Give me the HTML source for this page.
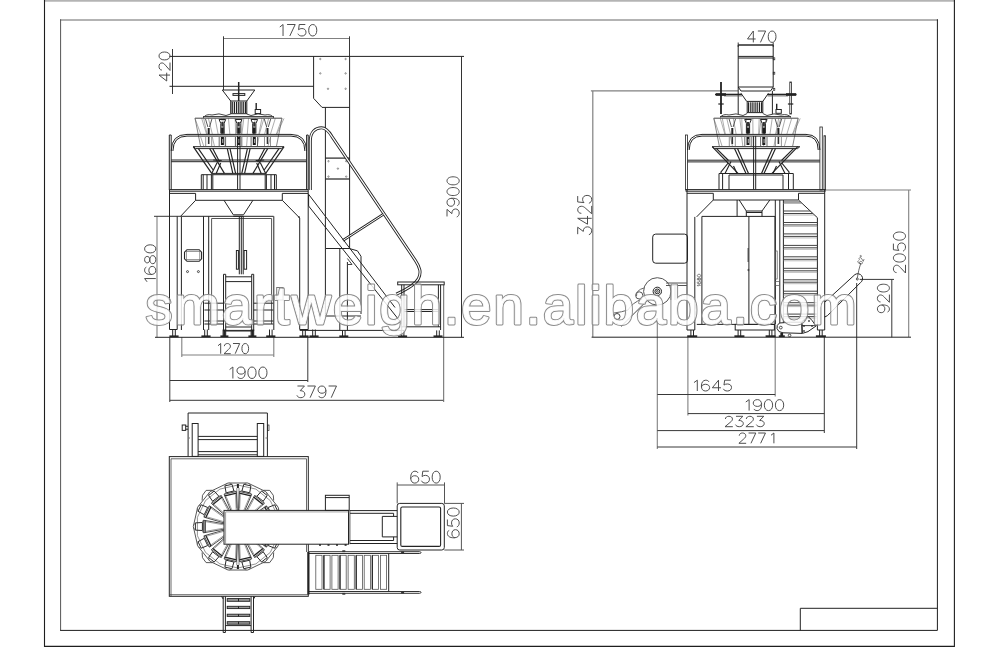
<!DOCTYPE html>
<html><head><meta charset="utf-8"><title>drawing</title>
<style>
html,body{margin:0;padding:0;background:#fff;}
body{width:1000px;height:647px;overflow:hidden;font-family:"Liberation Sans",sans-serif;}
svg{display:block}
</style></head><body>
<svg width="1000" height="647" viewBox="0 0 1000 647" fill="none" stroke="#242424" stroke-width="1" stroke-linecap="butt">
<rect x="0" y="0" width="1000" height="647" fill="#fff" stroke="none"/>
<line x1="44.0" y1="0.8" x2="955.0" y2="0.8" stroke="#b4b4b4" stroke-width="1.7"/>
<path d="M44.5,0.0 L44.5,646.4 L954.4,646.4 L954.4,0.0" stroke="#1e1e1e" stroke-width="1.1"/>
<line x1="60.0" y1="20.0" x2="938.0" y2="20.0" stroke="#9a9a9a" stroke-width="1.5"/>
<path d="M60.6,19.3 L60.6,630.4" stroke="#555" stroke-width="1.0"/>
<path d="M60.1,630.4 L937.4,630.4 L937.4,19.3" stroke="#1e1e1e" stroke-width="1.0"/>
<path d="M800.3,630.4 L800.3,608.3 L937.4,608.3" stroke="#222"/>
<line x1="223.5" y1="38.5" x2="349.5" y2="38.5" stroke="#808080" stroke-width="1.2"/>
<line x1="223.5" y1="36.3" x2="223.5" y2="90.0" stroke="#383838"/>
<line x1="349.5" y1="36.3" x2="349.5" y2="56.4" stroke="#383838"/>
<line x1="172.5" y1="49.0" x2="172.5" y2="94.0" stroke="#383838"/>
<line x1="169.5" y1="86.3" x2="313.6" y2="86.3" stroke="#222" stroke-width="1.0"/>
<line x1="157.0" y1="216.3" x2="157.0" y2="337.3" stroke="#808080" stroke-width="1.1"/>
<line x1="154.0" y1="216.3" x2="181.0" y2="216.3" stroke="#383838"/>
<line x1="181.8" y1="355.0" x2="273.8" y2="355.0" stroke="#808080" stroke-width="1.1"/>
<line x1="181.8" y1="337.0" x2="181.8" y2="357.0" stroke="#808080" stroke-width="1.1"/>
<line x1="273.8" y1="337.0" x2="273.8" y2="357.0" stroke="#808080" stroke-width="1.1"/>
<line x1="169.8" y1="380.5" x2="307.8" y2="380.5" stroke="#383838"/>
<line x1="169.8" y1="337.0" x2="169.8" y2="402.0" stroke="#383838"/>
<line x1="307.8" y1="337.0" x2="307.8" y2="382.0" stroke="#383838"/>
<line x1="169.8" y1="400.3" x2="443.7" y2="400.3" stroke="#383838"/>
<line x1="443.7" y1="285.0" x2="443.7" y2="402.0" stroke="#666"/>
<line x1="169.5" y1="56.4" x2="464.0" y2="56.4" stroke="#222" stroke-width="1.0"/>
<line x1="461.5" y1="56.4" x2="461.5" y2="337.3" stroke="#333"/>
<line x1="155.0" y1="337.3" x2="464.0" y2="337.3" stroke="#222" stroke-width="1.0"/>
<g transform="translate(276.29,24.50) scale(1.350,1.150)" stroke="#444" stroke-width="0.95" fill="none">
<path transform="translate(0.0,0)" d="M2.6,2.2 L5,0 L5,10" vector-effect="non-scaling-stroke"/>
<path transform="translate(8.0,0)" d="M0,0 L6,0 L2,10" vector-effect="non-scaling-stroke"/>
<path transform="translate(16.0,0)" d="M5.5,0 L1,0 L0.5,4.5 C1.2,3.8 2,3.5 3,3.5 C4.8,3.5 6,4.8 6,6.7 C6,8.7 4.8,10 3,10 C1.5,10 0.5,9.3 0,8" vector-effect="non-scaling-stroke"/>
<path transform="translate(24.0,0)" d="M3,0 C1.2,0 0,2 0,5 C0,8 1.2,10 3,10 C4.8,10 6,8 6,5 C6,2 4.8,0 3,0 Z" vector-effect="non-scaling-stroke"/>
</g>
<g transform="translate(159.00,81.00) rotate(-90) scale(1.318,1.100)" stroke="#444" stroke-width="0.95" fill="none">
<path transform="translate(0.0,0)" d="M4.5,10 L4.5,0 L0,7 L6.3,7" vector-effect="non-scaling-stroke"/>
<path transform="translate(8.0,0)" d="M0.3,2.6 C0.3,1 1.5,0 3,0 C4.5,0 5.7,1 5.7,2.6 C5.7,3.8 5.2,4.6 4,5.8 L0,10 L6,10" vector-effect="non-scaling-stroke"/>
<path transform="translate(16.0,0)" d="M3,0 C1.2,0 0,2 0,5 C0,8 1.2,10 3,10 C4.8,10 6,8 6,5 C6,2 4.8,0 3,0 Z" vector-effect="non-scaling-stroke"/>
</g>
<g transform="translate(447.00,217.00) rotate(-90) scale(1.340,1.220)" stroke="#444" stroke-width="0.95" fill="none">
<path transform="translate(0.0,0)" d="M0.4,0 L5.7,0 L2.5,4 C4.6,3.9 6,5.1 6,7 C6,8.8 4.7,10 3,10 C1.5,10 0.4,9.2 0,8" vector-effect="non-scaling-stroke"/>
<path transform="translate(8.0,0)" d="M0.5,8.5 C0.8,9.4 1.7,10 2.8,10 C4.8,10 6,8 6,4.5 C6,1.5 4.8,0 3,0 C1.2,0 0,1.3 0,3.2 C0,5 1.2,6.2 3,6.2 C4.5,6.2 5.7,5.2 6,3.7" vector-effect="non-scaling-stroke"/>
<path transform="translate(16.0,0)" d="M3,0 C1.2,0 0,2 0,5 C0,8 1.2,10 3,10 C4.8,10 6,8 6,5 C6,2 4.8,0 3,0 Z" vector-effect="non-scaling-stroke"/>
<path transform="translate(24.0,0)" d="M3,0 C1.2,0 0,2 0,5 C0,8 1.2,10 3,10 C4.8,10 6,8 6,5 C6,2 4.8,0 3,0 Z" vector-effect="non-scaling-stroke"/>
</g>
<g transform="translate(144.60,285.31) rotate(-90) scale(1.350,1.120)" stroke="#444" stroke-width="0.95" fill="none">
<path transform="translate(0.0,0)" d="M2.6,2.2 L5,0 L5,10" vector-effect="non-scaling-stroke"/>
<path transform="translate(8.0,0)" d="M5.5,1.5 C5.2,0.6 4.3,0 3.2,0 C1.2,0 0,2 0,5.5 C0,8.5 1.2,10 3,10 C4.8,10 6,8.7 6,6.8 C6,5 4.8,3.8 3,3.8 C1.5,3.8 0.3,4.8 0,6.3" vector-effect="non-scaling-stroke"/>
<path transform="translate(16.0,0)" d="M3,0 C1.5,0 0.6,1 0.6,2.3 C0.6,3.7 1.6,4.6 3,4.6 C4.4,4.6 5.4,3.7 5.4,2.3 C5.4,1 4.5,0 3,0 M3,4.6 C1.3,4.6 0,5.7 0,7.3 C0,8.9 1.3,10 3,10 C4.7,10 6,8.9 6,7.3 C6,5.7 4.7,4.6 3,4.6" vector-effect="non-scaling-stroke"/>
<path transform="translate(24.0,0)" d="M3,0 C1.2,0 0,2 0,5 C0,8 1.2,10 3,10 C4.8,10 6,8 6,5 C6,2 4.8,0 3,0 Z" vector-effect="non-scaling-stroke"/>
</g>
<g transform="translate(215.10,343.50) scale(1.117,1.020)" stroke="#444" stroke-width="0.95" fill="none">
<path transform="translate(0.0,0)" d="M2.6,2.2 L5,0 L5,10" vector-effect="non-scaling-stroke"/>
<path transform="translate(8.0,0)" d="M0.3,2.6 C0.3,1 1.5,0 3,0 C4.5,0 5.7,1 5.7,2.6 C5.7,3.8 5.2,4.6 4,5.8 L0,10 L6,10" vector-effect="non-scaling-stroke"/>
<path transform="translate(16.0,0)" d="M0,0 L6,0 L2,10" vector-effect="non-scaling-stroke"/>
<path transform="translate(24.0,0)" d="M3,0 C1.2,0 0,2 0,5 C0,8 1.2,10 3,10 C4.8,10 6,8 6,5 C6,2 4.8,0 3,0 Z" vector-effect="non-scaling-stroke"/>
</g>
<g transform="translate(226.05,367.00) scale(1.365,1.150)" stroke="#444" stroke-width="0.95" fill="none">
<path transform="translate(0.0,0)" d="M2.6,2.2 L5,0 L5,10" vector-effect="non-scaling-stroke"/>
<path transform="translate(8.0,0)" d="M0.5,8.5 C0.8,9.4 1.7,10 2.8,10 C4.8,10 6,8 6,4.5 C6,1.5 4.8,0 3,0 C1.2,0 0,1.3 0,3.2 C0,5 1.2,6.2 3,6.2 C4.5,6.2 5.7,5.2 6,3.7" vector-effect="non-scaling-stroke"/>
<path transform="translate(16.0,0)" d="M3,0 C1.2,0 0,2 0,5 C0,8 1.2,10 3,10 C4.8,10 6,8 6,5 C6,2 4.8,0 3,0 Z" vector-effect="non-scaling-stroke"/>
<path transform="translate(24.0,0)" d="M3,0 C1.2,0 0,2 0,5 C0,8 1.2,10 3,10 C4.8,10 6,8 6,5 C6,2 4.8,0 3,0 Z" vector-effect="non-scaling-stroke"/>
</g>
<g transform="translate(296.90,386.00) scale(1.320,1.170)" stroke="#444" stroke-width="0.95" fill="none">
<path transform="translate(0.0,0)" d="M0.4,0 L5.7,0 L2.5,4 C4.6,3.9 6,5.1 6,7 C6,8.8 4.7,10 3,10 C1.5,10 0.4,9.2 0,8" vector-effect="non-scaling-stroke"/>
<path transform="translate(8.0,0)" d="M0,0 L6,0 L2,10" vector-effect="non-scaling-stroke"/>
<path transform="translate(16.0,0)" d="M0.5,8.5 C0.8,9.4 1.7,10 2.8,10 C4.8,10 6,8 6,4.5 C6,1.5 4.8,0 3,0 C1.2,0 0,1.3 0,3.2 C0,5 1.2,6.2 3,6.2 C4.5,6.2 5.7,5.2 6,3.7" vector-effect="non-scaling-stroke"/>
<path transform="translate(24.0,0)" d="M0,0 L6,0 L2,10" vector-effect="non-scaling-stroke"/>
</g>
<line x1="222.3" y1="90.0" x2="254.8" y2="90.0" stroke-width="1.2"/>
<line x1="222.3" y1="90.0" x2="230.7" y2="101.0"/>
<line x1="254.8" y1="90.0" x2="246.8" y2="101.0"/>
<line x1="238.7" y1="82.0" x2="238.7" y2="101.0" stroke-width="1.5"/>
<rect x="233.0" y="93.6" width="11.8" height="1.8"/>
<rect x="230.7" y="101.0" width="16.1" height="12.7" stroke-width="1.0" fill="#fff"/>
<line x1="232.2" y1="101.8" x2="232.2" y2="113.2" stroke="#222" stroke-width="1.3"/>
<line x1="234.4" y1="101.8" x2="234.4" y2="113.2" stroke="#222" stroke-width="1.3"/>
<line x1="236.6" y1="101.8" x2="236.6" y2="113.2" stroke="#222" stroke-width="1.3"/>
<line x1="238.8" y1="101.8" x2="238.8" y2="113.2" stroke="#222" stroke-width="1.3"/>
<line x1="241.0" y1="101.8" x2="241.0" y2="113.2" stroke="#222" stroke-width="1.3"/>
<line x1="243.2" y1="101.8" x2="243.2" y2="113.2" stroke="#222" stroke-width="1.3"/>
<line x1="245.4" y1="101.8" x2="245.4" y2="113.2" stroke="#222" stroke-width="1.3"/>
<line x1="256.2" y1="103.0" x2="256.2" y2="110.0" stroke-width="1.4"/>
<rect x="255.2" y="109.5" width="5.4" height="4.0"/>
<path d="M203,118 Q206,113.5 212,115 Q219,112.5 226,115.5 L230.7,114 M246.8,114 L251,115.5 Q258,112.5 265,115 Q271,113.5 274,118" stroke="#444"/>
<line x1="203.0" y1="116.6" x2="274.0" y2="116.6" stroke="#444" stroke-width="1.2"/>
<g stroke="#8a8a8a" stroke-width="0.7">
<line x1="195.0" y1="118.4" x2="200.7" y2="134.0"/>
<line x1="200.7" y1="137.0" x2="203.7" y2="146.0"/>
<line x1="201.7" y1="118.4" x2="206.5" y2="134.0"/>
<line x1="203.7" y1="118.4" x2="207.0" y2="134.0"/>
<line x1="208.4" y1="118.4" x2="212.3" y2="134.0"/>
<line x1="212.3" y1="137.0" x2="214.4" y2="146.0"/>
<line x1="215.1" y1="118.4" x2="218.1" y2="134.0"/>
<line x1="221.8" y1="118.4" x2="224.0" y2="134.0"/>
<line x1="224.0" y1="137.0" x2="225.2" y2="146.0"/>
<line x1="223.8" y1="118.4" x2="224.5" y2="134.0"/>
<line x1="228.5" y1="118.4" x2="229.8" y2="134.0"/>
<line x1="235.2" y1="118.4" x2="235.6" y2="134.0"/>
<line x1="235.6" y1="137.0" x2="235.9" y2="146.0"/>
<line x1="241.8" y1="118.4" x2="241.4" y2="134.0"/>
<line x1="243.8" y1="118.4" x2="241.9" y2="134.0"/>
<line x1="248.5" y1="118.4" x2="247.3" y2="134.0"/>
<line x1="247.3" y1="137.0" x2="246.6" y2="146.0"/>
<line x1="255.2" y1="118.4" x2="253.1" y2="134.0"/>
<line x1="261.9" y1="118.4" x2="258.9" y2="134.0"/>
<line x1="258.9" y1="137.0" x2="257.3" y2="146.0"/>
<line x1="263.9" y1="118.4" x2="259.4" y2="134.0"/>
<line x1="268.6" y1="118.4" x2="264.7" y2="134.0"/>
<line x1="275.3" y1="118.4" x2="270.5" y2="134.0"/>
<line x1="270.5" y1="137.0" x2="268.0" y2="146.0"/>
<line x1="282.0" y1="118.4" x2="276.4" y2="134.0"/>
<line x1="284.0" y1="118.4" x2="276.9" y2="134.0"/>
</g>
<line x1="195.0" y1="118.2" x2="282.0" y2="118.2" stroke="#444" stroke-width="1.0"/>
<line x1="195.0" y1="118.2" x2="200.5" y2="146.0" stroke="#666" stroke-width="0.8"/>
<line x1="282.0" y1="118.2" x2="276.5" y2="146.0" stroke="#666" stroke-width="0.8"/>
<line x1="205.5" y1="119.0" x2="207.9" y2="127.0" stroke="#444" stroke-width="0.9"/>
<line x1="211.9" y1="119.0" x2="209.5" y2="127.0" stroke="#444" stroke-width="0.9"/>
<line x1="208.7" y1="128.0" x2="208.7" y2="134.0" stroke="#222" stroke-width="2.0"/>
<line x1="208.7" y1="137.0" x2="208.7" y2="144.0" stroke="#333" stroke-width="1.6"/>
<line x1="205.7" y1="137.0" x2="205.7" y2="146.0" stroke="#666" stroke-width="0.7"/>
<line x1="211.7" y1="137.0" x2="211.7" y2="146.0" stroke="#666" stroke-width="0.7"/>
<path d="M219.1,119.5 L220.8,123.5 L220.8,133.5" stroke="#222" stroke-width="1.0"/>
<path d="M225.7,119.5 L224.0,123.5 L224.0,133.5" stroke="#222" stroke-width="1.0"/>
<line x1="219.1" y1="119.5" x2="225.7" y2="119.5" stroke="#222" stroke-width="1.0"/>
<line x1="222.4" y1="122.0" x2="222.4" y2="126.5" stroke="#333" stroke-width="2.2"/>
<line x1="222.4" y1="127.5" x2="222.4" y2="133.8" stroke="#1c1c1c" stroke-width="2.6"/>
<line x1="222.4" y1="137.0" x2="222.4" y2="145.0" stroke="#1c1c1c" stroke-width="3.0"/>
<line x1="222.7" y1="139.0" x2="222.7" y2="143.0" stroke="#ddd" stroke-width="0.8"/>
<line x1="219.2" y1="137.0" x2="219.2" y2="146.0" stroke="#444" stroke-width="0.8"/>
<line x1="225.6" y1="137.0" x2="225.6" y2="146.0" stroke="#444" stroke-width="0.8"/>
<path d="M235.3,119.5 L237.0,123.5 L237.0,133.5" stroke="#222" stroke-width="1.0"/>
<path d="M241.9,119.5 L240.2,123.5 L240.2,133.5" stroke="#222" stroke-width="1.0"/>
<line x1="235.3" y1="119.5" x2="241.9" y2="119.5" stroke="#222" stroke-width="1.0"/>
<line x1="238.6" y1="122.0" x2="238.6" y2="126.5" stroke="#333" stroke-width="2.2"/>
<line x1="238.6" y1="127.5" x2="238.6" y2="133.8" stroke="#1c1c1c" stroke-width="2.6"/>
<line x1="238.6" y1="137.0" x2="238.6" y2="145.0" stroke="#1c1c1c" stroke-width="3.0"/>
<line x1="238.9" y1="139.0" x2="238.9" y2="143.0" stroke="#ddd" stroke-width="0.8"/>
<line x1="235.4" y1="137.0" x2="235.4" y2="146.0" stroke="#444" stroke-width="0.8"/>
<line x1="241.8" y1="137.0" x2="241.8" y2="146.0" stroke="#444" stroke-width="0.8"/>
<path d="M251.0,119.5 L252.7,123.5 L252.7,133.5" stroke="#222" stroke-width="1.0"/>
<path d="M257.6,119.5 L255.9,123.5 L255.9,133.5" stroke="#222" stroke-width="1.0"/>
<line x1="251.0" y1="119.5" x2="257.6" y2="119.5" stroke="#222" stroke-width="1.0"/>
<line x1="254.3" y1="122.0" x2="254.3" y2="126.5" stroke="#333" stroke-width="2.2"/>
<line x1="254.3" y1="127.5" x2="254.3" y2="133.8" stroke="#1c1c1c" stroke-width="2.6"/>
<line x1="254.3" y1="137.0" x2="254.3" y2="145.0" stroke="#1c1c1c" stroke-width="3.0"/>
<line x1="254.6" y1="139.0" x2="254.6" y2="143.0" stroke="#ddd" stroke-width="0.8"/>
<line x1="251.1" y1="137.0" x2="251.1" y2="146.0" stroke="#444" stroke-width="0.8"/>
<line x1="257.5" y1="137.0" x2="257.5" y2="146.0" stroke="#444" stroke-width="0.8"/>
<line x1="264.3" y1="119.0" x2="266.7" y2="127.0" stroke="#444" stroke-width="0.9"/>
<line x1="270.7" y1="119.0" x2="268.3" y2="127.0" stroke="#444" stroke-width="0.9"/>
<line x1="267.5" y1="128.0" x2="267.5" y2="134.0" stroke="#222" stroke-width="2.0"/>
<line x1="267.5" y1="137.0" x2="267.5" y2="144.0" stroke="#333" stroke-width="1.6"/>
<line x1="264.5" y1="137.0" x2="264.5" y2="146.0" stroke="#666" stroke-width="0.7"/>
<line x1="270.5" y1="137.0" x2="270.5" y2="146.0" stroke="#666" stroke-width="0.7"/>
<line x1="193.3" y1="146.7" x2="283.7" y2="146.7" stroke-width="1.0"/>
<line x1="195.5" y1="148.6" x2="281.5" y2="148.6" stroke-width="1.0"/>
<line x1="193.3" y1="146.7" x2="195.5" y2="148.6"/>
<line x1="283.7" y1="146.7" x2="281.5" y2="148.6"/>
<path d="M193.3,146.7 L211.7,173.4" stroke="#222" stroke-width="1.15"/>
<path d="M284.1,146.7 L265.7,173.4" stroke="#222" stroke-width="1.15"/>
<path d="M198.4,148.6 L213.2,170.0" stroke="#222" stroke-width="1.15"/>
<path d="M279.0,148.6 L264.2,170.0" stroke="#222" stroke-width="1.15"/>
<path d="M209.7,148.6 L224.4,173.4" stroke="#222" stroke-width="1.15"/>
<path d="M267.7,148.6 L253.0,173.4" stroke="#222" stroke-width="1.15"/>
<path d="M212.7,148.6 L219.7,162.0" stroke="#222" stroke-width="1.15"/>
<path d="M264.7,148.6 L257.7,162.0" stroke="#222" stroke-width="1.15"/>
<path d="M217.2,162.5 L211.7,173.4" stroke="#222" stroke-width="1.15"/>
<path d="M260.2,162.5 L265.7,173.4" stroke="#222" stroke-width="1.15"/>
<path d="M213.2,160.0 L221.7,160.5" stroke="#222" stroke-width="1.15"/>
<path d="M264.2,160.0 L255.7,160.5" stroke="#222" stroke-width="1.15"/>
<path d="M220.7,163.0 L216.2,173.4" stroke="#222" stroke-width="1.15"/>
<path d="M256.7,163.0 L261.2,173.4" stroke="#222" stroke-width="1.15"/>
<path d="M227.3,148.6 L232.8,173.4" stroke="#222" stroke-width="1.15"/>
<path d="M250.1,148.6 L244.6,173.4" stroke="#222" stroke-width="1.15"/>
<path d="M230.0,148.6 L235.6,173.4" stroke="#222" stroke-width="1.15"/>
<path d="M247.4,148.6 L241.8,173.4" stroke="#222" stroke-width="1.15"/>
<line x1="201.3" y1="174.7" x2="276.3" y2="174.7"/>
<line x1="211.4" y1="173.4" x2="266.4" y2="173.4"/>
<line x1="201.3" y1="174.7" x2="201.3" y2="189.6"/>
<line x1="203.2" y1="174.7" x2="203.2" y2="189.6"/>
<line x1="207.0" y1="174.7" x2="207.0" y2="189.6"/>
<line x1="211.4" y1="174.7" x2="211.4" y2="189.6"/>
<line x1="212.8" y1="174.7" x2="212.8" y2="189.6"/>
<line x1="265.2" y1="174.7" x2="265.2" y2="189.6"/>
<line x1="266.4" y1="174.7" x2="266.4" y2="189.6"/>
<line x1="271.0" y1="174.7" x2="271.0" y2="189.6"/>
<line x1="274.5" y1="174.7" x2="274.5" y2="189.6"/>
<line x1="276.3" y1="174.7" x2="276.3" y2="189.6"/>
<line x1="237.6" y1="136.0" x2="237.6" y2="189.6"/>
<line x1="240.0" y1="136.0" x2="240.0" y2="189.6"/>
<line x1="169.3" y1="135.0" x2="169.3" y2="190.0"/>
<line x1="171.2" y1="135.0" x2="171.2" y2="190.0"/>
<line x1="306.6" y1="135.0" x2="306.6" y2="190.0"/>
<line x1="308.2" y1="135.0" x2="308.2" y2="190.0"/>
<line x1="169.3" y1="135.0" x2="171.2" y2="135.0"/>
<line x1="306.6" y1="135.0" x2="308.2" y2="135.0"/>
<path d="M171.2,151 Q171.4,134.4 187,134.4 L291,134.4 Q306.4,134.4 306.6,151"/>
<path d="M172.9,151 Q173.2,136.1 187,136.1 L291,136.1 Q304.7,136.1 304.9,151"/>
<line x1="171.2" y1="160.0" x2="306.6" y2="160.0"/>
<line x1="171.2" y1="161.7" x2="306.6" y2="161.7"/>
<line x1="169.3" y1="189.6" x2="308.2" y2="189.6"/>
<line x1="169.3" y1="191.2" x2="308.2" y2="191.2"/>
<line x1="169.5" y1="193.4" x2="195.6" y2="193.4"/>
<line x1="282.3" y1="193.4" x2="308.2" y2="193.4"/>
<path d="M195.6,193.4 L195.6,200.3 L282.3,200.3 L282.3,193.4"/>
<line x1="195.6" y1="200.3" x2="180.6" y2="216.3"/>
<line x1="282.3" y1="200.3" x2="299.7" y2="218.0"/>
<line x1="169.5" y1="190.0" x2="169.5" y2="329.5"/>
<line x1="177.2" y1="216.3" x2="177.2" y2="329.5"/>
<line x1="169.5" y1="329.5" x2="177.2" y2="329.5"/>
<line x1="299.7" y1="218.0" x2="299.7" y2="329.5"/>
<line x1="308.2" y1="190.0" x2="308.2" y2="329.5"/>
<line x1="299.7" y1="329.5" x2="308.2" y2="329.5"/>
<line x1="181.4" y1="216.3" x2="273.6" y2="216.3"/>
<line x1="181.4" y1="216.3" x2="181.4" y2="330.0"/>
<line x1="203.5" y1="216.3" x2="203.5" y2="330.0"/>
<line x1="208.7" y1="216.3" x2="208.7" y2="330.0"/>
<path d="M211.6,324.0 L211.6,218.5 L271.6,218.5 L271.6,324.0" stroke="#555"/>
<line x1="273.8" y1="216.3" x2="273.8" y2="330.0"/>
<path d="M187.0,249.7 L199.2,249.7 L201.6,252.2 L201.6,258.8 L199.2,261.3 L187.0,261.3 L184.5,258.8 L184.5,252.2 Z" stroke-width="1.1"/>
<rect x="186.3" y="251.3" width="13.5" height="8.4" stroke="#666" stroke-width="0.7"/>
<circle cx="187.5" cy="271.6" r="1.0" stroke-width="0.8"/>
<circle cx="198.4" cy="271.6" r="1.0" stroke-width="0.8"/>
<path d="M224.0,200.3 L233.3,214.8 L243.5,214.8 L252.9,200.3"/>
<line x1="233.3" y1="216.3" x2="243.5" y2="216.3"/>
<line x1="239.3" y1="216.3" x2="239.3" y2="274.3"/>
<line x1="241.3" y1="216.3" x2="241.3" y2="274.3"/>
<line x1="243.2" y1="216.3" x2="243.2" y2="274.3"/>
<rect x="236.4" y="250.5" width="2.0" height="18.7"/>
<rect x="244.1" y="250.5" width="2.5" height="18.7"/>
<line x1="223.5" y1="274.3" x2="223.5" y2="331.0"/>
<line x1="225.7" y1="274.3" x2="225.7" y2="331.0"/>
<line x1="251.7" y1="274.3" x2="251.7" y2="331.0"/>
<line x1="253.7" y1="274.3" x2="253.7" y2="331.0"/>
<line x1="223.5" y1="274.3" x2="225.7" y2="274.3"/>
<line x1="251.7" y1="274.3" x2="253.7" y2="274.3"/>
<line x1="225.7" y1="276.8" x2="251.7" y2="276.8"/>
<line x1="225.7" y1="281.6" x2="251.7" y2="281.6"/>
<line x1="225.7" y1="327.0" x2="251.7" y2="327.0"/>
<line x1="225.7" y1="330.4" x2="251.7" y2="330.4"/>
<line x1="223.5" y1="331.0" x2="253.7" y2="331.0"/>
<rect x="276.7" y="287.5" width="6.3" height="12.5" stroke="#777"/>
<line x1="204.4" y1="303.2" x2="223.5" y2="303.2"/>
<line x1="253.7" y1="303.2" x2="273.3" y2="303.2"/>
<line x1="204.4" y1="310.0" x2="223.5" y2="310.0"/>
<line x1="253.7" y1="310.0" x2="273.3" y2="310.0"/>
<line x1="204.4" y1="321.0" x2="223.5" y2="321.0"/>
<line x1="253.7" y1="321.0" x2="273.3" y2="321.0"/>
<line x1="204.4" y1="324.0" x2="223.5" y2="324.0"/>
<line x1="253.7" y1="324.0" x2="273.3" y2="324.0"/>
<line x1="172.7" y1="329.5" x2="172.7" y2="336.1"/>
<line x1="175.3" y1="329.5" x2="175.3" y2="336.1"/>
<line x1="169.4" y1="336.3" x2="178.6" y2="336.3" stroke-width="1.8"/>
<line x1="204.7" y1="329.5" x2="204.7" y2="336.1"/>
<line x1="207.3" y1="329.5" x2="207.3" y2="336.1"/>
<line x1="201.4" y1="336.3" x2="210.6" y2="336.3" stroke-width="1.8"/>
<line x1="223.1" y1="329.5" x2="223.1" y2="336.1"/>
<line x1="225.7" y1="329.5" x2="225.7" y2="336.1"/>
<line x1="224.4" y1="329.5" x2="224.4" y2="336.3" stroke-width="2.2"/>
<line x1="220.4" y1="336.3" x2="228.4" y2="336.3" stroke-width="1.8"/>
<line x1="251.1" y1="329.5" x2="251.1" y2="336.1"/>
<line x1="253.7" y1="329.5" x2="253.7" y2="336.1"/>
<line x1="252.4" y1="329.5" x2="252.4" y2="336.3" stroke-width="2.2"/>
<line x1="248.4" y1="336.3" x2="256.4" y2="336.3" stroke-width="1.8"/>
<line x1="269.5" y1="329.5" x2="269.5" y2="336.1"/>
<line x1="272.1" y1="329.5" x2="272.1" y2="336.1"/>
<line x1="266.2" y1="336.3" x2="275.4" y2="336.3" stroke-width="1.8"/>
<line x1="302.7" y1="329.5" x2="302.7" y2="336.1"/>
<line x1="305.3" y1="329.5" x2="305.3" y2="336.1"/>
<line x1="299.4" y1="336.3" x2="308.6" y2="336.3" stroke-width="1.8"/>
<line x1="312.7" y1="329.5" x2="312.7" y2="336.1"/>
<line x1="315.3" y1="329.5" x2="315.3" y2="336.1"/>
<line x1="309.4" y1="336.3" x2="318.6" y2="336.3" stroke-width="1.8"/>
<path d="M313.6,56.4 L313.6,98.3 L322.0,107.4 L349.6,107.4"/>
<line x1="349.6" y1="56.4" x2="349.6" y2="248.5"/>
<line x1="325.4" y1="107.4" x2="325.4" y2="248.5"/>
<circle cx="320.3" cy="59.0" r="0.7" stroke="#666" stroke-width="0.7"/>
<circle cx="345.6" cy="59.0" r="0.7" stroke="#666" stroke-width="0.7"/>
<circle cx="320.3" cy="73.4" r="0.7" stroke="#666" stroke-width="0.7"/>
<circle cx="345.6" cy="73.4" r="0.7" stroke="#666" stroke-width="0.7"/>
<circle cx="328.0" cy="88.8" r="0.7" stroke="#666" stroke-width="0.7"/>
<circle cx="345.6" cy="88.8" r="0.7" stroke="#666" stroke-width="0.7"/>
<circle cx="328.5" cy="161.2" r="0.7" stroke="#666" stroke-width="0.7"/>
<circle cx="346.2" cy="161.2" r="0.7" stroke="#666" stroke-width="0.7"/>
<circle cx="337.9" cy="168.6" r="0.7" stroke="#666" stroke-width="0.7"/>
<circle cx="328.5" cy="176.6" r="0.7" stroke="#666" stroke-width="0.7"/>
<circle cx="346.2" cy="176.6" r="0.7" stroke="#666" stroke-width="0.7"/>
<line x1="325.4" y1="158.1" x2="349.6" y2="158.1" stroke="#222" stroke-width="1.2"/>
<line x1="325.4" y1="179.0" x2="349.6" y2="179.0" stroke="#222" stroke-width="1.2"/>
<path d="M310.3,190 L310.3,141 C310.3,132 315.5,127.8 321.5,127.8 C326,127.8 329,131.5 332,136.6 L341.3,150.4 L415.5,260.6 C420,267.5 421.5,272.5 418.5,278.5 C415.5,284.5 405,290.2 396.3,294.2" stroke="#242424" stroke-width="3.0"/>
<path d="M310.3,190 L310.3,141 C310.3,132 315.5,127.8 321.5,127.8 C326,127.8 329,131.5 332,136.6 L341.3,150.4 L415.5,260.6 C420,267.5 421.5,272.5 418.5,278.5 C415.5,284.5 405,290.2 396.3,294.2" stroke="#fff" stroke-width="1.2"/>
<path d="M343,240.4 L383.6,214.2" stroke="#242424" stroke-width="2.7"/>
<path d="M343,240.4 L383.6,214.2" stroke="#fff" stroke-width="1.0"/>
<line x1="308.6" y1="194.3" x2="395.0" y2="307.5"/>
<line x1="308.6" y1="206.0" x2="400.0" y2="321.3"/>
<line x1="308.6" y1="194.3" x2="308.6" y2="206.0"/>
<line x1="299.0" y1="216.0" x2="299.0" y2="218.0"/>
<line x1="325.4" y1="248.5" x2="349.2" y2="248.5"/>
<path d="M349.2,248.5 L357.4,250.8 L361.0,256.3 L361.0,314.0"/>
<line x1="339.8" y1="248.5" x2="339.8" y2="330.4"/>
<line x1="347.4" y1="262.0" x2="347.4" y2="330.4"/>
<line x1="325.4" y1="248.5" x2="325.4" y2="316.0"/>
<line x1="325.4" y1="316.0" x2="361.0" y2="316.0"/>
<path d="M347.4,258.5 L352.0,264.5 L347.4,264.5" stroke="#444"/>
<line x1="299.7" y1="330.4" x2="404.0" y2="330.4"/>
<rect x="397.7" y="282.0" width="46.5" height="2.8"/>
<line x1="401.7" y1="284.8" x2="401.7" y2="330.0"/>
<line x1="404.0" y1="284.8" x2="404.0" y2="326.8"/>
<line x1="440.6" y1="284.8" x2="440.6" y2="330.0"/>
<line x1="438.4" y1="284.8" x2="438.4" y2="326.8"/>
<line x1="404.0" y1="309.6" x2="438.4" y2="309.6"/>
<line x1="404.0" y1="311.5" x2="438.4" y2="311.5"/>
<line x1="401.7" y1="326.8" x2="440.6" y2="326.8"/>
<line x1="342.5" y1="330.4" x2="342.5" y2="336.1"/>
<line x1="345.1" y1="330.4" x2="345.1" y2="336.1"/>
<line x1="339.3" y1="336.3" x2="348.3" y2="336.3" stroke-width="1.8"/>
<line x1="401.3" y1="330.4" x2="401.3" y2="336.1"/>
<line x1="403.9" y1="330.4" x2="403.9" y2="336.1"/>
<line x1="398.1" y1="336.3" x2="407.1" y2="336.3" stroke-width="1.8"/>
<line x1="436.7" y1="330.4" x2="436.7" y2="336.1"/>
<line x1="439.3" y1="330.4" x2="439.3" y2="336.1"/>
<line x1="433.5" y1="336.3" x2="442.5" y2="336.3" stroke-width="1.8"/>
<line x1="738.2" y1="45.0" x2="773.2" y2="45.0" stroke="#383838"/>
<line x1="738.2" y1="42.5" x2="738.2" y2="47.0" stroke="#383838"/>
<line x1="773.2" y1="42.5" x2="773.2" y2="47.0" stroke="#383838"/>
<line x1="590.9" y1="90.9" x2="738.0" y2="90.9" stroke="#808080" stroke-width="1.2"/>
<line x1="592.8" y1="90.9" x2="592.8" y2="337.0" stroke="#808080" stroke-width="1.2"/>
<line x1="824.7" y1="190.0" x2="911.0" y2="190.0" stroke="#808080" stroke-width="1.1"/>
<line x1="908.7" y1="190.0" x2="908.7" y2="337.0" stroke="#808080" stroke-width="1.1"/>
<line x1="859.7" y1="279.4" x2="894.0" y2="279.4" stroke="#383838"/>
<line x1="891.8" y1="279.4" x2="891.8" y2="337.3" stroke="#383838"/>
<line x1="657.3" y1="318.0" x2="657.3" y2="449.0" stroke="#808080" stroke-width="1.1"/>
<line x1="687.9" y1="337.0" x2="687.9" y2="415.5" stroke="#808080" stroke-width="1.1"/>
<line x1="775.2" y1="337.0" x2="775.2" y2="396.5" stroke="#808080" stroke-width="1.1"/>
<line x1="824.3" y1="337.0" x2="824.3" y2="433.0" stroke="#383838"/>
<line x1="856.7" y1="283.0" x2="856.7" y2="449.0" stroke="#383838"/>
<line x1="657.3" y1="394.5" x2="775.2" y2="394.5" stroke="#383838"/>
<line x1="687.9" y1="413.6" x2="824.3" y2="413.6" stroke="#383838"/>
<line x1="657.3" y1="430.6" x2="824.3" y2="430.6" stroke="#383838"/>
<line x1="657.3" y1="447.0" x2="856.7" y2="447.0" stroke="#383838"/>
<line x1="591.6" y1="337.2" x2="911.0" y2="337.2" stroke="#222" stroke-width="1.0"/>
<g transform="translate(747.50,31.00) scale(1.295,1.140)" stroke="#444" stroke-width="0.95" fill="none">
<path transform="translate(0.0,0)" d="M4.5,10 L4.5,0 L0,7 L6.3,7" vector-effect="non-scaling-stroke"/>
<path transform="translate(8.0,0)" d="M0,0 L6,0 L2,10" vector-effect="non-scaling-stroke"/>
<path transform="translate(16.0,0)" d="M3,0 C1.2,0 0,2 0,5 C0,8 1.2,10 3,10 C4.8,10 6,8 6,5 C6,2 4.8,0 3,0 Z" vector-effect="non-scaling-stroke"/>
</g>
<g transform="translate(577.70,234.70) rotate(-90) scale(1.310,1.400)" stroke="#444" stroke-width="0.95" fill="none">
<path transform="translate(0.0,0)" d="M0.4,0 L5.7,0 L2.5,4 C4.6,3.9 6,5.1 6,7 C6,8.8 4.7,10 3,10 C1.5,10 0.4,9.2 0,8" vector-effect="non-scaling-stroke"/>
<path transform="translate(8.0,0)" d="M4.5,10 L4.5,0 L0,7 L6.3,7" vector-effect="non-scaling-stroke"/>
<path transform="translate(16.0,0)" d="M0.3,2.6 C0.3,1 1.5,0 3,0 C4.5,0 5.7,1 5.7,2.6 C5.7,3.8 5.2,4.6 4,5.8 L0,10 L6,10" vector-effect="non-scaling-stroke"/>
<path transform="translate(24.0,0)" d="M5.5,0 L1,0 L0.5,4.5 C1.2,3.8 2,3.5 3,3.5 C4.8,3.5 6,4.8 6,6.7 C6,8.7 4.8,10 3,10 C1.5,10 0.5,9.3 0,8" vector-effect="non-scaling-stroke"/>
</g>
<g transform="translate(893.40,273.00) rotate(-90) scale(1.367,1.210)" stroke="#444" stroke-width="0.95" fill="none">
<path transform="translate(0.0,0)" d="M0.3,2.6 C0.3,1 1.5,0 3,0 C4.5,0 5.7,1 5.7,2.6 C5.7,3.8 5.2,4.6 4,5.8 L0,10 L6,10" vector-effect="non-scaling-stroke"/>
<path transform="translate(8.0,0)" d="M3,0 C1.2,0 0,2 0,5 C0,8 1.2,10 3,10 C4.8,10 6,8 6,5 C6,2 4.8,0 3,0 Z" vector-effect="non-scaling-stroke"/>
<path transform="translate(16.0,0)" d="M5.5,0 L1,0 L0.5,4.5 C1.2,3.8 2,3.5 3,3.5 C4.8,3.5 6,4.8 6,6.7 C6,8.7 4.8,10 3,10 C1.5,10 0.5,9.3 0,8" vector-effect="non-scaling-stroke"/>
<path transform="translate(24.0,0)" d="M3,0 C1.2,0 0,2 0,5 C0,8 1.2,10 3,10 C4.8,10 6,8 6,5 C6,2 4.8,0 3,0 Z" vector-effect="non-scaling-stroke"/>
</g>
<g transform="translate(877.40,312.70) rotate(-90) scale(1.295,1.200)" stroke="#444" stroke-width="0.95" fill="none">
<path transform="translate(0.0,0)" d="M0.5,8.5 C0.8,9.4 1.7,10 2.8,10 C4.8,10 6,8 6,4.5 C6,1.5 4.8,0 3,0 C1.2,0 0,1.3 0,3.2 C0,5 1.2,6.2 3,6.2 C4.5,6.2 5.7,5.2 6,3.7" vector-effect="non-scaling-stroke"/>
<path transform="translate(8.0,0)" d="M0.3,2.6 C0.3,1 1.5,0 3,0 C4.5,0 5.7,1 5.7,2.6 C5.7,3.8 5.2,4.6 4,5.8 L0,10 L6,10" vector-effect="non-scaling-stroke"/>
<path transform="translate(16.0,0)" d="M3,0 C1.2,0 0,2 0,5 C0,8 1.2,10 3,10 C4.8,10 6,8 6,5 C6,2 4.8,0 3,0 Z" vector-effect="non-scaling-stroke"/>
</g>
<g transform="translate(690.44,380.20) scale(1.369,1.080)" stroke="#444" stroke-width="0.95" fill="none">
<path transform="translate(0.0,0)" d="M2.6,2.2 L5,0 L5,10" vector-effect="non-scaling-stroke"/>
<path transform="translate(8.0,0)" d="M5.5,1.5 C5.2,0.6 4.3,0 3.2,0 C1.2,0 0,2 0,5.5 C0,8.5 1.2,10 3,10 C4.8,10 6,8.7 6,6.8 C6,5 4.8,3.8 3,3.8 C1.5,3.8 0.3,4.8 0,6.3" vector-effect="non-scaling-stroke"/>
<path transform="translate(16.0,0)" d="M4.5,10 L4.5,0 L0,7 L6.3,7" vector-effect="non-scaling-stroke"/>
<path transform="translate(24.0,0)" d="M5.5,0 L1,0 L0.5,4.5 C1.2,3.8 2,3.5 3,3.5 C4.8,3.5 6,4.8 6,6.7 C6,8.7 4.8,10 3,10 C1.5,10 0.5,9.3 0,8" vector-effect="non-scaling-stroke"/>
</g>
<g transform="translate(742.20,399.60) scale(1.383,1.100)" stroke="#444" stroke-width="0.95" fill="none">
<path transform="translate(0.0,0)" d="M2.6,2.2 L5,0 L5,10" vector-effect="non-scaling-stroke"/>
<path transform="translate(8.0,0)" d="M0.5,8.5 C0.8,9.4 1.7,10 2.8,10 C4.8,10 6,8 6,4.5 C6,1.5 4.8,0 3,0 C1.2,0 0,1.3 0,3.2 C0,5 1.2,6.2 3,6.2 C4.5,6.2 5.7,5.2 6,3.7" vector-effect="non-scaling-stroke"/>
<path transform="translate(16.0,0)" d="M3,0 C1.2,0 0,2 0,5 C0,8 1.2,10 3,10 C4.8,10 6,8 6,5 C6,2 4.8,0 3,0 Z" vector-effect="non-scaling-stroke"/>
<path transform="translate(24.0,0)" d="M3,0 C1.2,0 0,2 0,5 C0,8 1.2,10 3,10 C4.8,10 6,8 6,5 C6,2 4.8,0 3,0 Z" vector-effect="non-scaling-stroke"/>
</g>
<g transform="translate(725.00,416.30) scale(1.307,1.040)" stroke="#444" stroke-width="0.95" fill="none">
<path transform="translate(0.0,0)" d="M0.3,2.6 C0.3,1 1.5,0 3,0 C4.5,0 5.7,1 5.7,2.6 C5.7,3.8 5.2,4.6 4,5.8 L0,10 L6,10" vector-effect="non-scaling-stroke"/>
<path transform="translate(8.0,0)" d="M0.4,0 L5.7,0 L2.5,4 C4.6,3.9 6,5.1 6,7 C6,8.8 4.7,10 3,10 C1.5,10 0.4,9.2 0,8" vector-effect="non-scaling-stroke"/>
<path transform="translate(16.0,0)" d="M0.3,2.6 C0.3,1 1.5,0 3,0 C4.5,0 5.7,1 5.7,2.6 C5.7,3.8 5.2,4.6 4,5.8 L0,10 L6,10" vector-effect="non-scaling-stroke"/>
<path transform="translate(24.0,0)" d="M0.4,0 L5.7,0 L2.5,4 C4.6,3.9 6,5.1 6,7 C6,8.8 4.7,10 3,10 C1.5,10 0.4,9.2 0,8" vector-effect="non-scaling-stroke"/>
</g>
<g transform="translate(738.90,433.00) scale(1.207,1.030)" stroke="#444" stroke-width="0.95" fill="none">
<path transform="translate(0.0,0)" d="M0.3,2.6 C0.3,1 1.5,0 3,0 C4.5,0 5.7,1 5.7,2.6 C5.7,3.8 5.2,4.6 4,5.8 L0,10 L6,10" vector-effect="non-scaling-stroke"/>
<path transform="translate(8.0,0)" d="M0,0 L6,0 L2,10" vector-effect="non-scaling-stroke"/>
<path transform="translate(16.0,0)" d="M0,0 L6,0 L2,10" vector-effect="non-scaling-stroke"/>
<path transform="translate(24.0,0)" d="M2.6,2.2 L5,0 L5,10" vector-effect="non-scaling-stroke"/>
</g>
<path d="M738.2,114.0 L738.2,45.0 L773.2,45.0 L773.2,87.0 L770.5,91.0 L741.0,91.0 L738.2,87.0"/>
<line x1="738.2" y1="56.4" x2="773.2" y2="56.4"/>
<line x1="738.2" y1="58.0" x2="773.2" y2="58.0"/>
<line x1="738.2" y1="87.0" x2="773.2" y2="87.0"/>
<line x1="772.4" y1="91.0" x2="772.4" y2="114.0"/>
<rect x="773.2" y="57.8" width="1.6" height="2.0" stroke-width="0.7"/>
<rect x="773.2" y="72.2" width="1.6" height="2.0" stroke-width="0.7"/>
<rect x="773.2" y="88.3" width="1.6" height="2.0" stroke-width="0.7"/>
<line x1="715.0" y1="94.5" x2="742.0" y2="94.5" stroke="#222" stroke-width="1.6"/>
<line x1="767.6" y1="94.5" x2="796.6" y2="94.5" stroke="#222" stroke-width="1.6"/>
<line x1="724.0" y1="96.0" x2="742.0" y2="96.0" stroke="#555" stroke-width="0.7"/>
<line x1="767.6" y1="96.0" x2="788.0" y2="96.0" stroke="#555" stroke-width="0.7"/>
<line x1="721.0" y1="82.0" x2="721.0" y2="114.0" stroke="#222" stroke-width="1.8"/>
<rect x="789.8" y="82.0" width="1.6" height="32.0" stroke-width="0.8"/>
<line x1="718.3" y1="104.0" x2="723.7" y2="104.0" stroke-width="1.2"/>
<line x1="787.9" y1="104.0" x2="793.3" y2="104.0" stroke-width="1.2"/>
<line x1="716.0" y1="94.5" x2="726.0" y2="94.5" stroke="#222" stroke-width="2.6"/>
<line x1="786.0" y1="94.5" x2="796.0" y2="94.5" stroke="#222" stroke-width="2.6"/>
<line x1="741.0" y1="93.3" x2="746.7" y2="101.4"/>
<line x1="768.4" y1="93.3" x2="762.8" y2="101.4"/>
<rect x="747.2" y="101.4" width="15.6" height="11.2" fill="#fff"/>
<line x1="748.6" y1="102.2" x2="748.6" y2="112.0" stroke="#222" stroke-width="1.2"/>
<line x1="750.8" y1="102.2" x2="750.8" y2="112.0" stroke="#222" stroke-width="1.2"/>
<line x1="752.9" y1="102.2" x2="752.9" y2="112.0" stroke="#222" stroke-width="1.2"/>
<line x1="755.1" y1="102.2" x2="755.1" y2="112.0" stroke="#222" stroke-width="1.2"/>
<line x1="757.2" y1="102.2" x2="757.2" y2="112.0" stroke="#222" stroke-width="1.2"/>
<line x1="759.4" y1="102.2" x2="759.4" y2="112.0" stroke="#222" stroke-width="1.2"/>
<line x1="761.5" y1="102.2" x2="761.5" y2="112.0" stroke="#222" stroke-width="1.2"/>
<line x1="776.7" y1="103.8" x2="776.7" y2="110.0" stroke-width="1.4"/>
<rect x="776.0" y="109.5" width="5.3" height="3.8"/>
<path d="M720,117.5 Q723,113.5 729,115 Q736,112.5 743,115.5 L747.2,113.5 M762.8,113.5 L767,115.5 Q774,112.5 781,115 Q788,113.5 791,117.5" stroke="#444"/>
<line x1="720.0" y1="116.6" x2="791.0" y2="116.6" stroke="#444" stroke-width="1.2"/>
<g stroke="#8a8a8a" stroke-width="0.7">
<line x1="713.8" y1="118.4" x2="719.2" y2="134.0"/>
<line x1="719.2" y1="137.0" x2="722.0" y2="146.0"/>
<line x1="720.3" y1="118.4" x2="724.8" y2="134.0"/>
<line x1="722.3" y1="118.4" x2="725.3" y2="134.0"/>
<line x1="726.8" y1="118.4" x2="730.5" y2="134.0"/>
<line x1="730.5" y1="137.0" x2="732.4" y2="146.0"/>
<line x1="733.3" y1="118.4" x2="736.1" y2="134.0"/>
<line x1="739.8" y1="118.4" x2="741.7" y2="134.0"/>
<line x1="741.7" y1="137.0" x2="742.8" y2="146.0"/>
<line x1="741.8" y1="118.4" x2="742.2" y2="134.0"/>
<line x1="746.3" y1="118.4" x2="747.4" y2="134.0"/>
<line x1="752.8" y1="118.4" x2="753.0" y2="134.0"/>
<line x1="753.0" y1="137.0" x2="753.2" y2="146.0"/>
<line x1="759.2" y1="118.4" x2="758.7" y2="134.0"/>
<line x1="761.2" y1="118.4" x2="759.2" y2="134.0"/>
<line x1="765.7" y1="118.4" x2="764.3" y2="134.0"/>
<line x1="764.3" y1="137.0" x2="763.6" y2="146.0"/>
<line x1="772.2" y1="118.4" x2="770.0" y2="134.0"/>
<line x1="778.7" y1="118.4" x2="775.6" y2="134.0"/>
<line x1="775.6" y1="137.0" x2="774.0" y2="146.0"/>
<line x1="780.7" y1="118.4" x2="776.1" y2="134.0"/>
<line x1="785.2" y1="118.4" x2="781.3" y2="134.0"/>
<line x1="791.7" y1="118.4" x2="786.9" y2="134.0"/>
<line x1="786.9" y1="137.0" x2="784.4" y2="146.0"/>
<line x1="798.2" y1="118.4" x2="792.6" y2="134.0"/>
<line x1="800.2" y1="118.4" x2="793.1" y2="134.0"/>
</g>
<line x1="713.8" y1="118.2" x2="798.2" y2="118.2" stroke="#444" stroke-width="1.0"/>
<line x1="713.8" y1="118.2" x2="719.3" y2="146.0" stroke="#666" stroke-width="0.8"/>
<line x1="798.2" y1="118.2" x2="792.7" y2="146.0" stroke="#666" stroke-width="0.8"/>
<line x1="729.1" y1="119.0" x2="731.5" y2="127.0" stroke="#444" stroke-width="0.9"/>
<line x1="735.5" y1="119.0" x2="733.1" y2="127.0" stroke="#444" stroke-width="0.9"/>
<line x1="732.3" y1="128.0" x2="732.3" y2="134.0" stroke="#222" stroke-width="2.0"/>
<line x1="732.3" y1="137.0" x2="732.3" y2="144.0" stroke="#333" stroke-width="1.6"/>
<line x1="729.3" y1="137.0" x2="729.3" y2="146.0" stroke="#666" stroke-width="0.7"/>
<line x1="735.3" y1="137.0" x2="735.3" y2="146.0" stroke="#666" stroke-width="0.7"/>
<path d="M744.7,119.5 L746.4,123.5 L746.4,133.5" stroke="#222" stroke-width="1.0"/>
<path d="M751.3,119.5 L749.6,123.5 L749.6,133.5" stroke="#222" stroke-width="1.0"/>
<line x1="744.7" y1="119.5" x2="751.3" y2="119.5" stroke="#222" stroke-width="1.0"/>
<line x1="748.0" y1="122.0" x2="748.0" y2="126.5" stroke="#333" stroke-width="2.2"/>
<line x1="748.0" y1="127.5" x2="748.0" y2="133.8" stroke="#1c1c1c" stroke-width="2.6"/>
<line x1="748.0" y1="137.0" x2="748.0" y2="145.0" stroke="#1c1c1c" stroke-width="3.0"/>
<line x1="748.3" y1="139.0" x2="748.3" y2="143.0" stroke="#ddd" stroke-width="0.8"/>
<line x1="744.8" y1="137.0" x2="744.8" y2="146.0" stroke="#444" stroke-width="0.8"/>
<line x1="751.2" y1="137.0" x2="751.2" y2="146.0" stroke="#444" stroke-width="0.8"/>
<path d="M760.5,119.5 L762.2,123.5 L762.2,133.5" stroke="#222" stroke-width="1.0"/>
<path d="M767.1,119.5 L765.4,123.5 L765.4,133.5" stroke="#222" stroke-width="1.0"/>
<line x1="760.5" y1="119.5" x2="767.1" y2="119.5" stroke="#222" stroke-width="1.0"/>
<line x1="763.8" y1="122.0" x2="763.8" y2="126.5" stroke="#333" stroke-width="2.2"/>
<line x1="763.8" y1="127.5" x2="763.8" y2="133.8" stroke="#1c1c1c" stroke-width="2.6"/>
<line x1="763.8" y1="137.0" x2="763.8" y2="145.0" stroke="#1c1c1c" stroke-width="3.0"/>
<line x1="764.1" y1="139.0" x2="764.1" y2="143.0" stroke="#ddd" stroke-width="0.8"/>
<line x1="760.6" y1="137.0" x2="760.6" y2="146.0" stroke="#444" stroke-width="0.8"/>
<line x1="767.0" y1="137.0" x2="767.0" y2="146.0" stroke="#444" stroke-width="0.8"/>
<line x1="775.2" y1="119.0" x2="777.6" y2="127.0" stroke="#444" stroke-width="0.9"/>
<line x1="781.6" y1="119.0" x2="779.2" y2="127.0" stroke="#444" stroke-width="0.9"/>
<line x1="778.4" y1="128.0" x2="778.4" y2="134.0" stroke="#222" stroke-width="2.0"/>
<line x1="778.4" y1="137.0" x2="778.4" y2="144.0" stroke="#333" stroke-width="1.6"/>
<line x1="775.4" y1="137.0" x2="775.4" y2="146.0" stroke="#666" stroke-width="0.7"/>
<line x1="781.4" y1="137.0" x2="781.4" y2="146.0" stroke="#666" stroke-width="0.7"/>
<line x1="712.2" y1="146.7" x2="799.8" y2="146.7" stroke-width="1.0"/>
<line x1="714.4" y1="148.6" x2="797.6" y2="148.6" stroke-width="1.0"/>
<line x1="712.2" y1="146.7" x2="714.4" y2="148.6"/>
<line x1="799.8" y1="146.7" x2="797.6" y2="148.6"/>
<path d="M712.2,146.7 L738.0,173.4" stroke="#222" stroke-width="1.15"/>
<path d="M797.8,146.7 L772.0,173.4" stroke="#222" stroke-width="1.15"/>
<path d="M716.5,148.6 L728.5,160.5" stroke="#222" stroke-width="1.15"/>
<path d="M793.5,148.6 L781.5,160.5" stroke="#222" stroke-width="1.15"/>
<path d="M728.2,163.0 L721.0,172.0 L721.0,173.5" stroke="#222" stroke-width="1.15"/>
<path d="M781.8,163.0 L789.0,172.0 L789.0,173.5" stroke="#222" stroke-width="1.15"/>
<path d="M731.0,161.5 L725.0,173.4" stroke="#222" stroke-width="1.15"/>
<path d="M779.0,161.5 L785.0,173.4" stroke="#222" stroke-width="1.15"/>
<path d="M734.5,148.6 L746.0,173.4" stroke="#222" stroke-width="1.15"/>
<path d="M775.5,148.6 L764.0,173.4" stroke="#222" stroke-width="1.15"/>
<path d="M737.5,148.6 L748.5,173.4" stroke="#222" stroke-width="1.15"/>
<path d="M772.5,148.6 L761.5,173.4" stroke="#222" stroke-width="1.15"/>
<path d="M733.5,166.0 L737.0,173.4" stroke="#222" stroke-width="1.15"/>
<path d="M776.5,166.0 L773.0,173.4" stroke="#222" stroke-width="1.15"/>
<line x1="719.0" y1="173.5" x2="793.3" y2="173.5"/>
<line x1="729.0" y1="175.0" x2="783.0" y2="175.0"/>
<line x1="719.0" y1="173.5" x2="719.0" y2="189.6"/>
<line x1="722.6" y1="173.5" x2="722.6" y2="189.6"/>
<line x1="729.0" y1="175.0" x2="729.0" y2="189.6"/>
<line x1="783.0" y1="175.0" x2="783.0" y2="189.6"/>
<line x1="788.5" y1="173.5" x2="788.5" y2="189.6"/>
<line x1="793.3" y1="173.5" x2="793.3" y2="189.6"/>
<line x1="753.6" y1="136.0" x2="753.6" y2="189.6"/>
<line x1="755.7" y1="136.0" x2="755.7" y2="189.6"/>
<rect x="685.6" y="135.0" width="1.9" height="55.0" stroke-width="0.8"/>
<rect x="819.9" y="127.0" width="2.4" height="63.0" stroke-width="0.8"/>
<rect x="824.0" y="135.7" width="1.6" height="54.3" stroke-width="0.8"/>
<path d="M687.5,150 Q687.7,134.4 702,134.4 L806,134.4 Q819.7,134.4 819.9,150"/>
<path d="M689.2,150 Q689.4,136.1 702,136.1 L806,136.1 Q818,136.1 818.2,150"/>
<line x1="687.5" y1="160.2" x2="819.9" y2="160.2"/>
<line x1="687.5" y1="161.9" x2="819.9" y2="161.9"/>
<line x1="685.6" y1="189.6" x2="825.6" y2="189.6"/>
<line x1="685.6" y1="191.2" x2="825.6" y2="191.2"/>
<line x1="687.0" y1="193.3" x2="713.3" y2="193.3"/>
<line x1="798.5" y1="193.3" x2="824.7" y2="193.3"/>
<path d="M713.3,193.3 L713.3,200.0 L798.5,200.0 L798.5,193.3"/>
<line x1="713.3" y1="200.0" x2="696.6" y2="216.9"/>
<line x1="798.5" y1="200.0" x2="817.4" y2="217.7"/>
<line x1="687.0" y1="190.0" x2="687.0" y2="330.0"/>
<line x1="694.8" y1="216.9" x2="694.8" y2="330.0"/>
<line x1="817.4" y1="217.7" x2="817.4" y2="330.0"/>
<line x1="824.7" y1="190.0" x2="824.7" y2="330.0"/>
<line x1="687.0" y1="330.0" x2="694.8" y2="330.0"/>
<line x1="817.4" y1="330.0" x2="824.7" y2="330.0"/>
<path d="M701.9,324.4 L701.9,216.4 L775.0,216.4 L775.0,337.0"/>
<line x1="748.9" y1="216.4" x2="748.9" y2="324.4"/>
<line x1="696.8" y1="324.4" x2="775.0" y2="324.4"/>
<rect x="735.2" y="324.4" width="39.2" height="5.6"/>
<line x1="748.2" y1="248.0" x2="748.2" y2="262.0" stroke="#444" stroke-width="1.2"/>
<circle cx="748.4" cy="270.0" r="0.7" stroke-width="0.7"/>
<path d="M739.2,200.0 L746.3,211.0 L762.0,211.0 L769.8,200.0"/>
<line x1="746.3" y1="212.5" x2="762.0" y2="212.5"/>
<line x1="737.1" y1="200.0" x2="737.1" y2="216.4"/>
<line x1="746.3" y1="211.0" x2="746.3" y2="216.4"/>
<line x1="762.0" y1="211.0" x2="762.0" y2="216.4"/>
<line x1="775.3" y1="200.0" x2="775.3" y2="324.0"/>
<line x1="779.8" y1="200.0" x2="779.8" y2="324.0"/>
<line x1="783.4" y1="200.0" x2="783.4" y2="324.0"/>
<rect x="775.3" y="251.0" width="1.9" height="28.0" stroke="#555" stroke-width="0.7"/>
<rect x="775.5" y="281.5" width="4.0" height="4.0" stroke="#555" stroke-width="0.7"/>
<g stroke="#444">
<line x1="783.4" y1="202.0" x2="800.6" y2="202.0"/>
<line x1="783.4" y1="211.0" x2="810.2" y2="211.0"/>
<line x1="783.4" y1="203.5" x2="802.2" y2="203.5" stroke="#888" stroke-width="0.6"/>
</g>
<g stroke="#444">
<line x1="783.4" y1="213.5" x2="812.9" y2="213.5"/>
<line x1="783.4" y1="222.5" x2="817.4" y2="222.5"/>
<line x1="783.4" y1="215.0" x2="814.5" y2="215.0" stroke="#888" stroke-width="0.6"/>
</g>
<g stroke="#444">
<line x1="783.4" y1="224.9" x2="817.4" y2="224.9"/>
<line x1="783.4" y1="233.9" x2="817.4" y2="233.9"/>
<line x1="783.4" y1="226.4" x2="817.4" y2="226.4" stroke="#888" stroke-width="0.6"/>
</g>
<g stroke="#444">
<line x1="783.4" y1="236.4" x2="817.4" y2="236.4"/>
<line x1="783.4" y1="245.4" x2="817.4" y2="245.4"/>
<line x1="783.4" y1="237.9" x2="817.4" y2="237.9" stroke="#888" stroke-width="0.6"/>
</g>
<g stroke="#444">
<line x1="783.4" y1="247.8" x2="817.4" y2="247.8"/>
<line x1="783.4" y1="256.8" x2="817.4" y2="256.8"/>
<line x1="783.4" y1="249.3" x2="817.4" y2="249.3" stroke="#888" stroke-width="0.6"/>
</g>
<g stroke="#444">
<line x1="783.4" y1="259.3" x2="817.4" y2="259.3"/>
<line x1="783.4" y1="268.3" x2="817.4" y2="268.3"/>
<line x1="783.4" y1="260.8" x2="817.4" y2="260.8" stroke="#888" stroke-width="0.6"/>
</g>
<g stroke="#444">
<line x1="783.4" y1="270.8" x2="817.4" y2="270.8"/>
<line x1="783.4" y1="279.8" x2="817.4" y2="279.8"/>
<line x1="783.4" y1="272.3" x2="817.4" y2="272.3" stroke="#888" stroke-width="0.6"/>
</g>
<g stroke="#444">
<line x1="783.4" y1="282.2" x2="817.4" y2="282.2"/>
<line x1="783.4" y1="291.2" x2="817.4" y2="291.2"/>
<line x1="783.4" y1="283.7" x2="817.4" y2="283.7" stroke="#888" stroke-width="0.6"/>
</g>
<g stroke="#444">
<line x1="783.4" y1="293.7" x2="817.4" y2="293.7"/>
<line x1="783.4" y1="302.7" x2="817.4" y2="302.7"/>
<line x1="783.4" y1="295.2" x2="817.4" y2="295.2" stroke="#888" stroke-width="0.6"/>
</g>
<g stroke="#444">
<line x1="783.4" y1="305.1" x2="817.4" y2="305.1"/>
<line x1="783.4" y1="314.1" x2="817.4" y2="314.1"/>
<line x1="783.4" y1="306.6" x2="817.4" y2="306.6" stroke="#888" stroke-width="0.6"/>
</g>
<g stroke="#444">
<line x1="783.4" y1="316.6" x2="817.4" y2="316.6"/>
<line x1="783.4" y1="325.6" x2="817.4" y2="325.6"/>
<line x1="783.4" y1="318.1" x2="817.4" y2="318.1" stroke="#888" stroke-width="0.6"/>
</g>
<rect x="652.7" y="234.1" width="34.8" height="29.1" rx="3"/>
<circle cx="657.3" cy="291.4" r="13.7" stroke="#555"/>
<circle cx="657.3" cy="291.4" r="4.2"/>
<circle cx="657.3" cy="291.4" r="2.4"/>
<circle cx="657.3" cy="291.4" r="0.9" stroke-width="0.8"/>
<circle cx="639.2" cy="295.4" r="3.6" stroke="#555"/>
<circle cx="617.0" cy="316.5" r="3.0" stroke="#444"/>
<line x1="621.0" y1="326.5" x2="648.3" y2="299.4" stroke="#444"/>
<path d="M644,288 Q636,290 636.5,296 M642,299 Q632,303 628,310 Q622,312 614,313" stroke="#666"/>
<line x1="666.0" y1="283.0" x2="687.0" y2="283.0" stroke="#555"/>
<line x1="666.0" y1="285.5" x2="687.0" y2="285.5" stroke="#555"/>
<line x1="671.0" y1="285.5" x2="671.0" y2="300.0" stroke="#666"/>
<line x1="675.0" y1="285.5" x2="675.0" y2="300.0" stroke="#666"/>
<g transform="translate(697.30,287.55) rotate(-90) scale(0.442,0.340)" stroke="#333" stroke-width="0.6" fill="none">
<path transform="translate(0.0,0)" d="M2.6,2.2 L5,0 L5,10" vector-effect="non-scaling-stroke"/>
<path transform="translate(8.0,0)" d="M5.5,1.5 C5.2,0.6 4.3,0 3.2,0 C1.2,0 0,2 0,5.5 C0,8.5 1.2,10 3,10 C4.8,10 6,8.7 6,6.8 C6,5 4.8,3.8 3,3.8 C1.5,3.8 0.3,4.8 0,6.3" vector-effect="non-scaling-stroke"/>
<path transform="translate(16.0,0)" d="M3,0 C1.5,0 0.6,1 0.6,2.3 C0.6,3.7 1.6,4.6 3,4.6 C4.4,4.6 5.4,3.7 5.4,2.3 C5.4,1 4.5,0 3,0 M3,4.6 C1.3,4.6 0,5.7 0,7.3 C0,8.9 1.3,10 3,10 C4.7,10 6,8.9 6,7.3 C6,5.7 4.7,4.6 3,4.6" vector-effect="non-scaling-stroke"/>
<path transform="translate(24.0,0)" d="M3,0 C1.2,0 0,2 0,5 C0,8 1.2,10 3,10 C4.8,10 6,8 6,5 C6,2 4.8,0 3,0 Z" vector-effect="non-scaling-stroke"/>
</g>
<line x1="825.0" y1="302.0" x2="854.9" y2="274.6"/>
<path d="M824.7,317.0 L827.5,315.6 L860.5,282.6"/>
<path d="M854.9,274.6 A4.3,4.3 0 0 1 860.5,282.6"/>
<circle cx="857.3" cy="279.0" r="1.0" stroke-width="0.8"/>
<path d="M857.3,278 Q858.5,270 860.8,263" stroke="#444" stroke-width="0.8"/>
<g transform="translate(857.3,262.6) rotate(-68) scale(0.42,0.5)" stroke="#333" stroke-width="0.6" fill="none">
<path transform="translate(0,0)" d="M5.5,1.5 C5.2,0.6 4.3,0 3.2,0 C1.2,0 0,2 0,5.5 C0,8.5 1.2,10 3,10 C4.8,10 6,8.7 6,6.8 C6,5 4.8,3.8 3,3.8 C1.5,3.8 0.3,4.8 0,6.3" vector-effect="non-scaling-stroke"/>
<path transform="translate(8,0)" d="M0.3,2.6 C0.3,1 1.5,0 3,0 C4.5,0 5.7,1 5.7,2.6 C5.7,3.8 5.2,4.6 4,5.8 L0,10 L6,10" vector-effect="non-scaling-stroke"/>
<circle cx="17.5" cy="1.5" r="1.5" vector-effect="non-scaling-stroke"/>
</g>
<path d="M779.5,323 Q776.3,325 777,328.5 Q778,332.5 783,332.8 L802,333.4 L802,322.2 Q790,321.8 779.5,323 Z" fill="#fff"/>
<circle cx="780.8" cy="327.6" r="1.4" stroke-width="0.8"/>
<circle cx="789.6" cy="335.4" r="1.3" stroke-width="0.8"/>
<path d="M801.6,322.0 L808.0,316.4 L812.0,320.4 L816.0,326.0 L808.0,331.6 L802.4,333.4 Z"/>
<circle cx="804.0" cy="320.5" r="0.6" stroke="#222" stroke-width="0.8"/>
<circle cx="804.0" cy="326.0" r="0.6" stroke="#222" stroke-width="0.8"/>
<circle cx="804.0" cy="331.0" r="0.6" stroke="#222" stroke-width="0.8"/>
<circle cx="809.0" cy="321.0" r="0.6" stroke="#222" stroke-width="0.8"/>
<circle cx="812.0" cy="326.0" r="0.6" stroke="#222" stroke-width="0.8"/>
<line x1="690.9" y1="330.0" x2="690.9" y2="336.0"/>
<line x1="693.5" y1="330.0" x2="693.5" y2="336.0"/>
<line x1="687.2" y1="336.2" x2="697.2" y2="336.2" stroke-width="1.8"/>
<line x1="738.1" y1="330.0" x2="738.1" y2="336.0"/>
<line x1="740.7" y1="330.0" x2="740.7" y2="336.0"/>
<line x1="734.4" y1="336.2" x2="744.4" y2="336.2" stroke-width="1.8"/>
<line x1="769.3" y1="330.0" x2="769.3" y2="336.0"/>
<line x1="771.9" y1="330.0" x2="771.9" y2="336.0"/>
<line x1="765.6" y1="336.2" x2="775.6" y2="336.2" stroke-width="1.8"/>
<line x1="819.6" y1="330.0" x2="819.6" y2="336.0"/>
<line x1="822.2" y1="330.0" x2="822.2" y2="336.0"/>
<line x1="815.9" y1="336.2" x2="825.9" y2="336.2" stroke-width="1.8"/>
<line x1="781.0" y1="333.0" x2="781.0" y2="336.0"/>
<line x1="782.6" y1="333.0" x2="782.6" y2="336.0"/>
<line x1="781.8" y1="333.0" x2="781.8" y2="336.2" stroke-width="2.2"/>
<line x1="778.8" y1="336.2" x2="784.8" y2="336.2" stroke-width="1.8"/>
<path d="M188.1,456.4 L188.1,413.0 L267.4,413.0 L267.4,456.4"/>
<rect x="192.2" y="423.5" width="5.9" height="32.9"/>
<rect x="257.3" y="423.5" width="6.4" height="32.9"/>
<line x1="198.1" y1="436.4" x2="257.3" y2="436.4"/>
<line x1="198.1" y1="439.6" x2="257.3" y2="439.6"/>
<line x1="198.1" y1="451.6" x2="257.3" y2="451.6"/>
<line x1="198.1" y1="454.8" x2="257.3" y2="454.8"/>
<rect x="182.2" y="425.0" width="3.5" height="5.4"/>
<line x1="185.7" y1="426.3" x2="188.1" y2="426.3"/>
<line x1="185.7" y1="429.2" x2="188.1" y2="429.2"/>
<rect x="267.4" y="425.0" width="1.6" height="5.4" stroke-width="0.7"/>
<line x1="188.1" y1="438.0" x2="190.0" y2="438.0" stroke="#777"/>
<line x1="265.5" y1="438.0" x2="267.4" y2="438.0" stroke="#777"/>
<rect x="169.3" y="456.6" width="139.0" height="139.7" stroke-width="1.0"/>
<path d="M171.0,596.3 L171.0,458.8 L306.5,458.8 L306.5,552.0" stroke="#444" stroke-width="0.8"/>
<line x1="169.3" y1="594.7" x2="308.3" y2="594.7" stroke="#444" stroke-width="0.8"/>
<path d="M228.0,483.0 L210.1,491.6 L197.7,507.1 L193.3,526.5 L197.7,545.9 L210.1,561.4 L228.0,570.0 L247.8,570.0 L265.7,561.4 L278.1,545.9 L282.5,526.5 L278.1,507.1 L265.7,491.6 L247.8,483.0 Z" stroke="#444" stroke-width="0.9"/>
<path d="M219.9,489.1 L205.5,500.6 L197.4,517.3 L197.4,535.7 L205.5,552.4 L219.9,563.9 L237.9,568.0 L255.9,563.9 L270.3,552.4 L278.4,535.7 L278.4,517.3 L270.3,500.6 L255.9,489.1 L237.9,485.0 Z" stroke="#666" stroke-width="0.7"/>
<path d="M212.5,490.3 L206.1,490.4 L202.5,495.3 L202.1,500.5" stroke="#444" stroke-width="0.9"/>
<path d="M212.5,562.7 L206.1,562.6 L202.5,557.7 L202.1,552.5" stroke="#444" stroke-width="0.9"/>
<path d="M263.3,490.3 L269.7,490.4 L273.3,495.3 L273.7,500.5" stroke="#444" stroke-width="0.9"/>
<path d="M263.3,562.7 L269.7,562.6 L273.3,557.7 L273.7,552.5" stroke="#444" stroke-width="0.9"/>
<path d="M233.9,491.0 L232.0,484.3 L224.9,485.9 L226.1,492.8 Z" stroke="#2a2a2a" stroke-width="1.0"/>
<path d="M232.0,484.3 L229.5,482.9" stroke="#555" stroke-width="0.7"/>
<path d="M224.9,485.9 L226.6,483.5" stroke="#555" stroke-width="0.7"/>
<path d="M237.4,512.3 L236.4,491.5 L224.1,494.3 L232.2,513.5" stroke="#3a3a3a" stroke-width="0.9"/>
<path d="M236.3,512.5 L235.5,494.2" stroke="#777" stroke-width="0.7"/>
<path d="M233.2,513.2 L226.1,496.4" stroke="#777" stroke-width="0.7"/>
<path d="M236.5,493.2 L224.8,495.9" stroke="#222" stroke-width="1.3"/>
<path d="M233.9,491.0 L236.4,491.5" stroke="#444" stroke-width="0.8"/>
<path d="M226.1,492.8 L224.1,494.3" stroke="#444" stroke-width="0.8"/>
<path d="M218.9,496.3 L214.2,491.0 L208.6,495.5 L212.6,501.2 Z" stroke="#2a2a2a" stroke-width="1.0"/>
<path d="M214.2,491.0 L211.4,490.9" stroke="#555" stroke-width="0.7"/>
<path d="M208.6,495.5 L209.0,492.7" stroke="#555" stroke-width="0.7"/>
<path d="M231.3,513.9 L221.3,495.6 L211.5,503.5 L227.1,517.2" stroke="#3a3a3a" stroke-width="0.9"/>
<path d="M230.4,514.6 L221.7,498.5" stroke="#777" stroke-width="0.7"/>
<path d="M227.9,516.6 L214.2,504.5" stroke="#777" stroke-width="0.7"/>
<path d="M222.1,497.1 L212.8,504.6" stroke="#222" stroke-width="1.3"/>
<path d="M218.9,496.3 L221.3,495.6" stroke="#444" stroke-width="0.8"/>
<path d="M212.6,501.2 L211.5,503.5" stroke="#444" stroke-width="0.8"/>
<path d="M207.7,507.5 L201.2,504.8 L198.0,511.3 L204.2,514.7 Z" stroke="#2a2a2a" stroke-width="1.0"/>
<path d="M201.2,504.8 L198.5,505.9" stroke="#555" stroke-width="0.7"/>
<path d="M198.0,511.3 L197.2,508.6" stroke="#555" stroke-width="0.7"/>
<path d="M226.5,518.0 L209.6,505.9 L204.1,517.2 L224.1,522.9" stroke="#3a3a3a" stroke-width="0.9"/>
<path d="M226.0,519.0 L211.2,508.3" stroke="#777" stroke-width="0.7"/>
<path d="M224.6,521.9 L207.0,516.9" stroke="#777" stroke-width="0.7"/>
<path d="M211.0,506.9 L205.7,517.7" stroke="#222" stroke-width="1.3"/>
<path d="M207.7,507.5 L209.6,505.9" stroke="#444" stroke-width="0.8"/>
<path d="M204.2,514.7 L204.1,517.2" stroke="#444" stroke-width="0.8"/>
<path d="M202.4,522.5 L195.4,522.9 L195.4,530.1 L202.4,530.5 Z" stroke="#2a2a2a" stroke-width="1.0"/>
<path d="M195.4,522.9 L193.5,525.0" stroke="#555" stroke-width="0.7"/>
<path d="M195.4,530.1 L193.5,528.0" stroke="#555" stroke-width="0.7"/>
<path d="M223.9,523.8 L203.4,520.2 L203.4,532.8 L223.9,529.2" stroke="#3a3a3a" stroke-width="0.9"/>
<path d="M223.9,524.9 L205.9,521.7" stroke="#777" stroke-width="0.7"/>
<path d="M223.9,528.1 L205.9,531.3" stroke="#777" stroke-width="0.7"/>
<path d="M205.1,520.5 L205.1,532.5" stroke="#222" stroke-width="1.3"/>
<path d="M202.4,522.5 L203.4,520.2" stroke="#444" stroke-width="0.8"/>
<path d="M202.4,530.5 L203.4,532.8" stroke="#444" stroke-width="0.8"/>
<path d="M204.2,538.3 L198.0,541.7 L201.2,548.2 L207.7,545.5 Z" stroke="#2a2a2a" stroke-width="1.0"/>
<path d="M198.0,541.7 L197.2,544.4" stroke="#555" stroke-width="0.7"/>
<path d="M201.2,548.2 L198.5,547.1" stroke="#555" stroke-width="0.7"/>
<path d="M224.1,530.1 L204.1,535.8 L209.6,547.1 L226.5,535.0" stroke="#3a3a3a" stroke-width="0.9"/>
<path d="M224.6,531.1 L207.0,536.1" stroke="#777" stroke-width="0.7"/>
<path d="M226.0,534.0 L211.2,544.7" stroke="#777" stroke-width="0.7"/>
<path d="M205.7,535.3 L211.0,546.1" stroke="#222" stroke-width="1.3"/>
<path d="M204.2,538.3 L204.1,535.8" stroke="#444" stroke-width="0.8"/>
<path d="M207.7,545.5 L209.6,547.1" stroke="#444" stroke-width="0.8"/>
<path d="M212.6,551.8 L208.6,557.5 L214.2,562.0 L218.9,556.7 Z" stroke="#2a2a2a" stroke-width="1.0"/>
<path d="M208.6,557.5 L209.0,560.3" stroke="#555" stroke-width="0.7"/>
<path d="M214.2,562.0 L211.4,562.1" stroke="#555" stroke-width="0.7"/>
<path d="M227.1,535.8 L211.5,549.5 L221.3,557.4 L231.3,539.1" stroke="#3a3a3a" stroke-width="0.9"/>
<path d="M227.9,536.4 L214.2,548.5" stroke="#777" stroke-width="0.7"/>
<path d="M230.4,538.4 L221.7,554.5" stroke="#777" stroke-width="0.7"/>
<path d="M212.8,548.4 L222.1,555.9" stroke="#222" stroke-width="1.3"/>
<path d="M212.6,551.8 L211.5,549.5" stroke="#444" stroke-width="0.8"/>
<path d="M218.9,556.7 L221.3,557.4" stroke="#444" stroke-width="0.8"/>
<path d="M226.1,560.2 L224.9,567.1 L232.0,568.7 L233.9,562.0 Z" stroke="#2a2a2a" stroke-width="1.0"/>
<path d="M224.9,567.1 L226.6,569.5" stroke="#555" stroke-width="0.7"/>
<path d="M232.0,568.7 L229.5,570.1" stroke="#555" stroke-width="0.7"/>
<path d="M232.2,539.5 L224.1,558.7 L236.4,561.5 L237.4,540.7" stroke="#3a3a3a" stroke-width="0.9"/>
<path d="M233.2,539.8 L226.1,556.6" stroke="#777" stroke-width="0.7"/>
<path d="M236.3,540.5 L235.5,558.8" stroke="#777" stroke-width="0.7"/>
<path d="M224.8,557.1 L236.5,559.8" stroke="#222" stroke-width="1.3"/>
<path d="M226.1,560.2 L224.1,558.7" stroke="#444" stroke-width="0.8"/>
<path d="M233.9,562.0 L236.4,561.5" stroke="#444" stroke-width="0.8"/>
<path d="M241.9,562.0 L243.8,568.7 L250.9,567.1 L249.7,560.2 Z" stroke="#2a2a2a" stroke-width="1.0"/>
<path d="M243.8,568.7 L246.3,570.1" stroke="#555" stroke-width="0.7"/>
<path d="M250.9,567.1 L249.2,569.5" stroke="#555" stroke-width="0.7"/>
<path d="M238.4,540.7 L239.4,561.5 L251.7,558.7 L243.6,539.5" stroke="#3a3a3a" stroke-width="0.9"/>
<path d="M239.5,540.5 L240.3,558.8" stroke="#777" stroke-width="0.7"/>
<path d="M242.6,539.8 L249.7,556.6" stroke="#777" stroke-width="0.7"/>
<path d="M239.3,559.8 L251.0,557.1" stroke="#222" stroke-width="1.3"/>
<path d="M241.9,562.0 L239.4,561.5" stroke="#444" stroke-width="0.8"/>
<path d="M249.7,560.2 L251.7,558.7" stroke="#444" stroke-width="0.8"/>
<path d="M256.9,556.7 L261.6,562.0 L267.2,557.5 L263.2,551.8 Z" stroke="#2a2a2a" stroke-width="1.0"/>
<path d="M261.6,562.0 L264.4,562.1" stroke="#555" stroke-width="0.7"/>
<path d="M267.2,557.5 L266.8,560.3" stroke="#555" stroke-width="0.7"/>
<path d="M244.5,539.1 L254.5,557.4 L264.3,549.5 L248.7,535.8" stroke="#3a3a3a" stroke-width="0.9"/>
<path d="M245.4,538.4 L254.1,554.5" stroke="#777" stroke-width="0.7"/>
<path d="M247.9,536.4 L261.6,548.5" stroke="#777" stroke-width="0.7"/>
<path d="M253.7,555.9 L263.0,548.4" stroke="#222" stroke-width="1.3"/>
<path d="M256.9,556.7 L254.5,557.4" stroke="#444" stroke-width="0.8"/>
<path d="M263.2,551.8 L264.3,549.5" stroke="#444" stroke-width="0.8"/>
<path d="M268.1,545.5 L274.6,548.2 L277.8,541.7 L271.6,538.3 Z" stroke="#2a2a2a" stroke-width="1.0"/>
<path d="M274.6,548.2 L277.3,547.1" stroke="#555" stroke-width="0.7"/>
<path d="M277.8,541.7 L278.6,544.4" stroke="#555" stroke-width="0.7"/>
<path d="M249.3,535.0 L266.2,547.1 L271.7,535.8 L251.7,530.1" stroke="#3a3a3a" stroke-width="0.9"/>
<path d="M249.8,534.0 L264.6,544.7" stroke="#777" stroke-width="0.7"/>
<path d="M251.2,531.1 L268.8,536.1" stroke="#777" stroke-width="0.7"/>
<path d="M264.8,546.1 L270.1,535.3" stroke="#222" stroke-width="1.3"/>
<path d="M268.1,545.5 L266.2,547.1" stroke="#444" stroke-width="0.8"/>
<path d="M271.6,538.3 L271.7,535.8" stroke="#444" stroke-width="0.8"/>
<path d="M273.4,530.5 L280.4,530.1 L280.4,522.9 L273.4,522.5 Z" stroke="#2a2a2a" stroke-width="1.0"/>
<path d="M280.4,530.1 L282.3,528.0" stroke="#555" stroke-width="0.7"/>
<path d="M280.4,522.9 L282.3,525.0" stroke="#555" stroke-width="0.7"/>
<path d="M251.9,529.2 L272.4,532.8 L272.4,520.2 L251.9,523.8" stroke="#3a3a3a" stroke-width="0.9"/>
<path d="M251.9,528.1 L269.9,531.3" stroke="#777" stroke-width="0.7"/>
<path d="M251.9,524.9 L269.9,521.7" stroke="#777" stroke-width="0.7"/>
<path d="M270.7,532.5 L270.7,520.5" stroke="#222" stroke-width="1.3"/>
<path d="M273.4,530.5 L272.4,532.8" stroke="#444" stroke-width="0.8"/>
<path d="M273.4,522.5 L272.4,520.2" stroke="#444" stroke-width="0.8"/>
<path d="M271.6,514.7 L277.8,511.3 L274.6,504.8 L268.1,507.5 Z" stroke="#2a2a2a" stroke-width="1.0"/>
<path d="M277.8,511.3 L278.6,508.6" stroke="#555" stroke-width="0.7"/>
<path d="M274.6,504.8 L277.3,505.9" stroke="#555" stroke-width="0.7"/>
<path d="M251.7,522.9 L271.7,517.2 L266.2,505.9 L249.3,518.0" stroke="#3a3a3a" stroke-width="0.9"/>
<path d="M251.2,521.9 L268.8,516.9" stroke="#777" stroke-width="0.7"/>
<path d="M249.8,519.0 L264.6,508.3" stroke="#777" stroke-width="0.7"/>
<path d="M270.1,517.7 L264.8,506.9" stroke="#222" stroke-width="1.3"/>
<path d="M271.6,514.7 L271.7,517.2" stroke="#444" stroke-width="0.8"/>
<path d="M268.1,507.5 L266.2,505.9" stroke="#444" stroke-width="0.8"/>
<path d="M263.2,501.2 L267.2,495.5 L261.6,491.0 L256.9,496.3 Z" stroke="#2a2a2a" stroke-width="1.0"/>
<path d="M267.2,495.5 L266.8,492.7" stroke="#555" stroke-width="0.7"/>
<path d="M261.6,491.0 L264.4,490.9" stroke="#555" stroke-width="0.7"/>
<path d="M248.7,517.2 L264.3,503.5 L254.5,495.6 L244.5,513.9" stroke="#3a3a3a" stroke-width="0.9"/>
<path d="M247.9,516.6 L261.6,504.5" stroke="#777" stroke-width="0.7"/>
<path d="M245.4,514.6 L254.1,498.5" stroke="#777" stroke-width="0.7"/>
<path d="M263.0,504.6 L253.7,497.1" stroke="#222" stroke-width="1.3"/>
<path d="M263.2,501.2 L264.3,503.5" stroke="#444" stroke-width="0.8"/>
<path d="M256.9,496.3 L254.5,495.6" stroke="#444" stroke-width="0.8"/>
<path d="M249.7,492.8 L250.9,485.9 L243.8,484.3 L241.9,491.0 Z" stroke="#2a2a2a" stroke-width="1.0"/>
<path d="M250.9,485.9 L249.2,483.5" stroke="#555" stroke-width="0.7"/>
<path d="M243.8,484.3 L246.3,482.9" stroke="#555" stroke-width="0.7"/>
<path d="M243.6,513.5 L251.7,494.3 L239.4,491.5 L238.4,512.3" stroke="#3a3a3a" stroke-width="0.9"/>
<path d="M242.6,513.2 L249.7,496.4" stroke="#777" stroke-width="0.7"/>
<path d="M239.5,512.5 L240.3,494.2" stroke="#777" stroke-width="0.7"/>
<path d="M251.0,495.9 L239.3,493.2" stroke="#222" stroke-width="1.3"/>
<path d="M249.7,492.8 L251.7,494.3" stroke="#444" stroke-width="0.8"/>
<path d="M241.9,491.0 L239.4,491.5" stroke="#444" stroke-width="0.8"/>
<line x1="237.9" y1="484.0" x2="237.9" y2="488.0" stroke="#222" stroke-width="2"/>
<line x1="237.9" y1="565.0" x2="237.9" y2="569.0" stroke="#222" stroke-width="2"/>
<line x1="236.8" y1="488.0" x2="236.8" y2="508.0" stroke="#555" stroke-width="0.7"/>
<line x1="239.0" y1="488.0" x2="239.0" y2="508.0" stroke="#555" stroke-width="0.7"/>
<line x1="236.8" y1="545.0" x2="236.8" y2="565.0" stroke="#555" stroke-width="0.7"/>
<line x1="239.0" y1="545.0" x2="239.0" y2="565.0" stroke="#555" stroke-width="0.7"/>
<rect x="224.0" y="510.4" width="124.5" height="33.8" stroke-width="1.0" fill="#fff"/>
<path d="M225.6,544.2 L225.6,511.9 L348.5,511.9" stroke="#888" stroke-width="0.8"/>
<line x1="349.9" y1="510.4" x2="349.9" y2="544.2" stroke="#555"/>
<rect x="325.4" y="495.3" width="23.8" height="15.1"/>
<line x1="325.4" y1="497.6" x2="349.2" y2="497.6"/>
<line x1="319.0" y1="545.0" x2="321.0" y2="545.0" stroke="#222" stroke-width="1.6"/>
<line x1="327.5" y1="545.0" x2="329.5" y2="545.0" stroke="#222" stroke-width="1.6"/>
<line x1="336.0" y1="545.0" x2="338.0" y2="545.0" stroke="#222" stroke-width="1.6"/>
<line x1="344.6" y1="545.0" x2="346.6" y2="545.0" stroke="#222" stroke-width="1.6"/>
<line x1="349.9" y1="510.6" x2="397.2" y2="510.6"/>
<line x1="349.9" y1="543.5" x2="397.2" y2="543.5"/>
<path d="M350.0,513.3 L393.6,513.3 L393.6,516.4"/>
<path d="M350.0,540.5 L393.6,540.5 L393.6,536.9"/>
<path d="M397.2,516.4 L382.3,516.4 L382.3,536.9 L397.2,536.9"/>
<rect x="397.2" y="503.4" width="47.1" height="46.6" stroke-width="1.0" rx="2.5"/>
<rect x="400.8" y="507.0" width="39.8" height="39.4" stroke-width="1.1" rx="1.5"/>
<g stroke="#555">
<line x1="397.2" y1="485.0" x2="444.5" y2="485.0"/>
<line x1="397.2" y1="482.4" x2="397.2" y2="503.4"/>
<line x1="444.5" y1="482.4" x2="444.5" y2="503.4"/>
<line x1="461.4" y1="503.4" x2="461.4" y2="550.0"/>
<line x1="444.3" y1="503.4" x2="464.0" y2="503.4"/>
<line x1="444.3" y1="550.0" x2="464.0" y2="550.0"/>
</g>
<g transform="translate(410.70,471.20) scale(1.341,1.190)" stroke="#444" stroke-width="0.95" fill="none">
<path transform="translate(0.0,0)" d="M5.5,1.5 C5.2,0.6 4.3,0 3.2,0 C1.2,0 0,2 0,5.5 C0,8.5 1.2,10 3,10 C4.8,10 6,8.7 6,6.8 C6,5 4.8,3.8 3,3.8 C1.5,3.8 0.3,4.8 0,6.3" vector-effect="non-scaling-stroke"/>
<path transform="translate(8.0,0)" d="M5.5,0 L1,0 L0.5,4.5 C1.2,3.8 2,3.5 3,3.5 C4.8,3.5 6,4.8 6,6.7 C6,8.7 4.8,10 3,10 C1.5,10 0.5,9.3 0,8" vector-effect="non-scaling-stroke"/>
<path transform="translate(16.0,0)" d="M3,0 C1.2,0 0,2 0,5 C0,8 1.2,10 3,10 C4.8,10 6,8 6,5 C6,2 4.8,0 3,0 Z" vector-effect="non-scaling-stroke"/>
</g>
<g transform="translate(447.40,537.80) rotate(-90) scale(1.355,1.180)" stroke="#444" stroke-width="0.95" fill="none">
<path transform="translate(0.0,0)" d="M5.5,1.5 C5.2,0.6 4.3,0 3.2,0 C1.2,0 0,2 0,5.5 C0,8.5 1.2,10 3,10 C4.8,10 6,8.7 6,6.8 C6,5 4.8,3.8 3,3.8 C1.5,3.8 0.3,4.8 0,6.3" vector-effect="non-scaling-stroke"/>
<path transform="translate(8.0,0)" d="M5.5,0 L1,0 L0.5,4.5 C1.2,3.8 2,3.5 3,3.5 C4.8,3.5 6,4.8 6,6.7 C6,8.7 4.8,10 3,10 C1.5,10 0.5,9.3 0,8" vector-effect="non-scaling-stroke"/>
<path transform="translate(16.0,0)" d="M3,0 C1.2,0 0,2 0,5 C0,8 1.2,10 3,10 C4.8,10 6,8 6,5 C6,2 4.8,0 3,0 Z" vector-effect="non-scaling-stroke"/>
</g>
<path d="M308.6,551.7 L419.5,551.7 Q421,551.7 421,552.6 Q421,553.5 419.5,553.5 L308.6,553.5" stroke="#333"/>
<path d="M308.6,591.5 L419.5,591.5 Q421,591.5 421,592.4 Q421,593.3 419.5,593.3 L308.6,593.3" stroke="#333"/>
<line x1="308.4" y1="552.0" x2="308.4" y2="594.5" stroke="#222" stroke-width="2.2"/>
<rect x="315.8" y="555.3" width="6.2" height="34.0" stroke="#555" stroke-width="0.8"/>
<rect x="323.9" y="555.3" width="6.2" height="34.0" stroke="#555" stroke-width="0.8"/>
<line x1="323.9" y1="555.3" x2="323.9" y2="589.3" stroke="#222" stroke-width="1.2"/>
<rect x="331.9" y="555.3" width="6.2" height="34.0" stroke="#555" stroke-width="0.8"/>
<rect x="340.0" y="555.3" width="6.2" height="34.0" stroke="#555" stroke-width="0.8"/>
<line x1="340.0" y1="555.3" x2="340.0" y2="589.3" stroke="#222" stroke-width="1.2"/>
<rect x="348.1" y="555.3" width="6.2" height="34.0" stroke="#555" stroke-width="0.8"/>
<rect x="356.2" y="555.3" width="6.2" height="34.0" stroke="#555" stroke-width="0.8"/>
<line x1="356.2" y1="555.3" x2="356.2" y2="589.3" stroke="#222" stroke-width="1.2"/>
<rect x="364.2" y="555.3" width="6.2" height="34.0" stroke="#555" stroke-width="0.8"/>
<rect x="372.3" y="555.3" width="6.2" height="34.0" stroke="#555" stroke-width="0.8"/>
<line x1="372.3" y1="555.3" x2="372.3" y2="589.3" stroke="#222" stroke-width="1.2"/>
<rect x="380.4" y="555.3" width="6.2" height="34.0" stroke="#555" stroke-width="0.8"/>
<line x1="388.7" y1="553.5" x2="388.7" y2="591.5"/>
<line x1="401.1" y1="552.3" x2="404.1" y2="552.3" stroke="#333" stroke-width="1.8"/>
<line x1="401.1" y1="592.6" x2="404.1" y2="592.6" stroke="#333" stroke-width="1.8"/>
<line x1="342.3" y1="551.2" x2="345.3" y2="551.2" stroke="#333" stroke-width="1.8"/>
<line x1="342.3" y1="593.8" x2="345.3" y2="593.8" stroke="#333" stroke-width="1.8"/>
<line x1="223.2" y1="596.3" x2="223.2" y2="632.5"/>
<line x1="225.4" y1="596.3" x2="225.4" y2="632.5"/>
<line x1="251.1" y1="596.3" x2="251.1" y2="632.5"/>
<line x1="253.5" y1="596.3" x2="253.5" y2="632.5"/>
<line x1="223.2" y1="632.5" x2="225.4" y2="632.5"/>
<line x1="251.1" y1="632.5" x2="253.5" y2="632.5"/>
<line x1="221.5" y1="596.3" x2="223.2" y2="599.0"/>
<line x1="255.2" y1="596.3" x2="253.5" y2="599.0"/>
<rect x="227.2" y="598.6" width="22.6" height="2.7" stroke="#222" stroke-width="0.9" fill="#999"/>
<line x1="238.5" y1="598.6" x2="238.5" y2="601.3" stroke="#222"/>
<rect x="227.2" y="606.3" width="22.6" height="2.3" stroke="#222" stroke-width="0.9" fill="#999"/>
<line x1="238.5" y1="606.3" x2="238.5" y2="608.6" stroke="#222"/>
<rect x="227.2" y="614.2" width="22.6" height="2.2" stroke="#222" stroke-width="0.9" fill="#999"/>
<line x1="238.5" y1="614.2" x2="238.5" y2="616.4" stroke="#222"/>
<rect x="227.2" y="621.7" width="22.6" height="2.5" stroke="#222" stroke-width="0.9" fill="#999"/>
<line x1="238.5" y1="621.7" x2="238.5" y2="624.2" stroke="#222"/>
<line x1="225.4" y1="625.6" x2="251.1" y2="625.6"/>
<mask id="wm" maskUnits="userSpaceOnUse" x="0" y="0" width="1000" height="647"><rect x="0" y="0" width="1000" height="647" fill="#fff" stroke="none"/><text x="145.5" y="323.5" font-family="Liberation Sans, sans-serif" font-size="54" textLength="711" lengthAdjust="spacing" fill="#000" stroke="#000" stroke-width="0.9" stroke-linejoin="round">smartweigh.en.alibaba.com</text></mask>
<g opacity="0.84"><text x="145.5" y="323.5" font-family="Liberation Sans, sans-serif" font-size="54" textLength="711" lengthAdjust="spacing" fill="#fff" stroke="#fff" stroke-width="0.9" stroke-linejoin="round">smartweigh.en.alibaba.com</text></g>
<text x="145.5" y="323.5" font-family="Liberation Sans, sans-serif" font-size="54" textLength="711" lengthAdjust="spacing" mask="url(#wm)" fill="none" stroke="#8c8c8c" stroke-width="2.9" stroke-linejoin="round">smartweigh.en.alibaba.com</text>
</svg>
</body></html>
